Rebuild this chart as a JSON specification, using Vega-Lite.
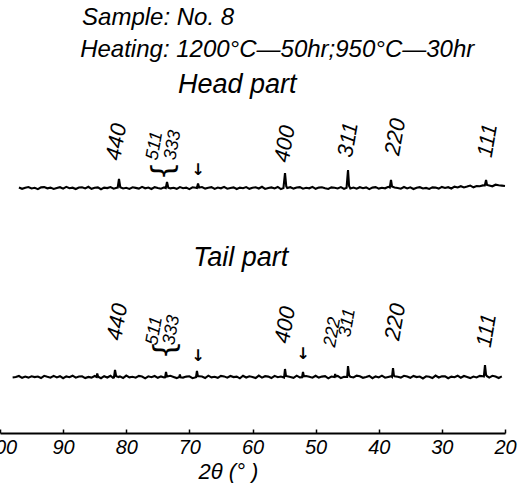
{
  "$schema": "https://vega.github.io/schema/vega-lite/v6.json",
  "width": 505,
  "height": 433,
  "autosize": "none",
  "padding": {"left": 0, "top": 0, "right": 22, "bottom": 50},
  "background": "white",
  "config": {"view": {"stroke": null}},
  "datasets": {
    "pattern": [
      {"s":"head","t":97.0,"v":245.5},{"s":"head","t":96.5,"v":244.2},{"s":"head","t":96.0,"v":245.3},{"s":"head","t":95.5,"v":246},{"s":"head","t":95.0,"v":244.5},
      {"s":"head","t":94.5,"v":245.2},{"s":"head","t":94.0,"v":243.9},{"s":"head","t":93.5,"v":245.6},{"s":"head","t":93.0,"v":245.9},{"s":"head","t":92.5,"v":244.7},
      {"s":"head","t":92.0,"v":245.4},{"s":"head","t":91.5,"v":244.1},{"s":"head","t":91.0,"v":245.1},{"s":"head","t":90.5,"v":245.8},{"s":"head","t":90.0,"v":244.4},
      {"s":"head","t":89.5,"v":246.1},{"s":"head","t":89.0,"v":244.8},{"s":"head","t":88.5,"v":245.3},{"s":"head","t":88.0,"v":244},{"s":"head","t":87.5,"v":245.5},
      {"s":"head","t":87.0,"v":245.7},{"s":"head","t":86.5,"v":244.6},{"s":"head","t":86.0,"v":246.2},{"s":"head","t":85.5,"v":244.2},{"s":"head","t":85.0,"v":245.2},
      {"s":"head","t":84.5,"v":245.6},{"s":"head","t":84.0,"v":243.8},{"s":"head","t":83.5,"v":245.4},{"s":"head","t":83.0,"v":244.9},{"s":"head","t":82.5,"v":245.9},
      {"s":"head","t":82.0,"v":244.3},{"s":"head","t":81.5,"v":245.3},{"s":"head","t":81.35,"v":245.5},{"s":"head","t":81.15,"v":254},{"s":"head","t":80.95,"v":245.8},
      {"s":"head","t":80.5,"v":244.5},{"s":"head","t":80.0,"v":245.2},{"s":"head","t":79.5,"v":244.1},{"s":"head","t":79.0,"v":245.7},{"s":"head","t":78.5,"v":245.1},
      {"s":"head","t":78.0,"v":244.4},{"s":"head","t":77.5,"v":246.1},{"s":"head","t":77.0,"v":244.7},{"s":"head","t":76.5,"v":245.5},{"s":"head","t":76.0,"v":244},
      {"s":"head","t":75.5,"v":245.8},{"s":"head","t":75.0,"v":245},{"s":"head","t":74.5,"v":244.3},{"s":"head","t":74.0,"v":245.6},{"s":"head","t":73.74,"v":245},
      {"s":"head","t":73.54,"v":251},{"s":"head","t":73.34,"v":245.3},{"s":"head","t":73.0,"v":244.6},{"s":"head","t":72.5,"v":245.2},{"s":"head","t":72.0,"v":244.2},
      {"s":"head","t":71.5,"v":245.9},{"s":"head","t":71.0,"v":244.8},{"s":"head","t":70.5,"v":245.4},{"s":"head","t":70.0,"v":243.9},{"s":"head","t":69.5,"v":245.7},
      {"s":"head","t":69.0,"v":245.3},{"s":"head","t":68.8,"v":245},{"s":"head","t":68.63,"v":249.5},{"s":"head","t":68.45,"v":245.4},{"s":"head","t":68.0,"v":246},
      {"s":"head","t":67.5,"v":244.4},{"s":"head","t":67.0,"v":245.2},{"s":"head","t":66.5,"v":245.8},{"s":"head","t":66.0,"v":244.1},{"s":"head","t":65.5,"v":245.5},
      {"s":"head","t":65.0,"v":244.7},{"s":"head","t":64.5,"v":246.1},{"s":"head","t":64.0,"v":244.3},{"s":"head","t":63.5,"v":245},{"s":"head","t":63.0,"v":245.6},
      {"s":"head","t":62.5,"v":244},{"s":"head","t":62.0,"v":245.4},{"s":"head","t":61.5,"v":244.8},{"s":"head","t":61.0,"v":245.9},{"s":"head","t":60.5,"v":244.2},
      {"s":"head","t":60.0,"v":245.3},{"s":"head","t":59.5,"v":245.7},{"s":"head","t":59.0,"v":244.5},{"s":"head","t":58.5,"v":246.2},{"s":"head","t":58.0,"v":244.1},
      {"s":"head","t":57.5,"v":245.1},{"s":"head","t":57.0,"v":245.6},{"s":"head","t":56.5,"v":244.6},{"s":"head","t":56.0,"v":246},{"s":"head","t":55.5,"v":243.9},
      {"s":"head","t":55.1,"v":245},{"s":"head","t":54.85,"v":260},{"s":"head","t":54.65,"v":246.5},{"s":"head","t":54.5,"v":244.9},{"s":"head","t":54.0,"v":245.8},
      {"s":"head","t":53.5,"v":244.4},{"s":"head","t":53.0,"v":245.5},{"s":"head","t":52.5,"v":245.9},{"s":"head","t":52.0,"v":244.3},{"s":"head","t":51.5,"v":245.2},
      {"s":"head","t":51.0,"v":244.7},{"s":"head","t":50.5,"v":246.1},{"s":"head","t":50.0,"v":244.2},{"s":"head","t":49.5,"v":245.4},{"s":"head","t":49.0,"v":245.7},
      {"s":"head","t":48.5,"v":244.8},{"s":"head","t":48.0,"v":244},{"s":"head","t":47.5,"v":245.6},{"s":"head","t":47.0,"v":245.3},{"s":"head","t":46.5,"v":244.5},
      {"s":"head","t":46.0,"v":245.9},{"s":"head","t":45.5,"v":244.1},{"s":"head","t":45.1,"v":245.2},{"s":"head","t":44.87,"v":263},{"s":"head","t":44.7,"v":247},
      {"s":"head","t":44.5,"v":244.6},{"s":"head","t":44.0,"v":245.5},{"s":"head","t":43.5,"v":244.3},{"s":"head","t":43.0,"v":245.8},{"s":"head","t":42.5,"v":244.8},
      {"s":"head","t":42.0,"v":245.6},{"s":"head","t":41.5,"v":243.9},{"s":"head","t":41.0,"v":245.4},{"s":"head","t":40.5,"v":245.9},{"s":"head","t":40.0,"v":244.4},
      {"s":"head","t":39.5,"v":245.2},{"s":"head","t":39.0,"v":244.7},{"s":"head","t":38.5,"v":246.2},{"s":"head","t":38.25,"v":245.5},{"s":"head","t":38.06,"v":253},
      {"s":"head","t":37.9,"v":246.5},{"s":"head","t":37.5,"v":245.5},{"s":"head","t":37.0,"v":245},{"s":"head","t":36.5,"v":244.3},{"s":"head","t":36.0,"v":246},
      {"s":"head","t":35.5,"v":244.6},{"s":"head","t":35.0,"v":245.7},{"s":"head","t":34.5,"v":244},{"s":"head","t":34.0,"v":245.3},{"s":"head","t":33.5,"v":245.8},
      {"s":"head","t":33.0,"v":244.5},{"s":"head","t":32.5,"v":245.1},{"s":"head","t":32.0,"v":244.1},{"s":"head","t":31.5,"v":245.6},{"s":"head","t":31.0,"v":245.4},
      {"s":"head","t":30.5,"v":244.4},{"s":"head","t":30.0,"v":246.1},{"s":"head","t":29.5,"v":245},{"s":"head","t":29.0,"v":245.8},{"s":"head","t":28.5,"v":244.5},
      {"s":"head","t":28.0,"v":246.3},{"s":"head","t":27.5,"v":245.5},{"s":"head","t":27.0,"v":246.8},{"s":"head","t":26.5,"v":245.5},{"s":"head","t":26.0,"v":246.4},
      {"s":"head","t":25.5,"v":247.4},{"s":"head","t":25.0,"v":245.7},{"s":"head","t":24.5,"v":247},{"s":"head","t":24.0,"v":246.7},{"s":"head","t":23.5,"v":247.6},
      {"s":"head","t":23.2,"v":247.5},{"s":"head","t":23.0,"v":253},{"s":"head","t":22.85,"v":248},{"s":"head","t":22.5,"v":247.5},{"s":"head","t":22.0,"v":246.7},
      {"s":"head","t":21.5,"v":248.3},{"s":"head","t":21.0,"v":247.7},{"s":"head","t":20.5,"v":247.4},{"s":"head","t":20.0,"v":247},

      {"s":"tail","t":98.0,"v":55.5},{"s":"tail","t":97.5,"v":56},{"s":"tail","t":97.0,"v":57},{"s":"tail","t":96.5,"v":55.2},{"s":"tail","t":96.0,"v":56.4},
      {"s":"tail","t":95.5,"v":55.4},{"s":"tail","t":95.0,"v":56.7},{"s":"tail","t":94.5,"v":55.9},{"s":"tail","t":94.0,"v":56.5},{"s":"tail","t":93.5,"v":55},
      {"s":"tail","t":93.0,"v":57.2},{"s":"tail","t":92.5,"v":56.2},{"s":"tail","t":92.0,"v":55.3},{"s":"tail","t":91.5,"v":57.1},{"s":"tail","t":91.0,"v":55.6},
      {"s":"tail","t":90.5,"v":56.8},{"s":"tail","t":90.0,"v":54.8},{"s":"tail","t":89.5,"v":56.6},{"s":"tail","t":89.0,"v":55.8},{"s":"tail","t":88.5,"v":57.3},
      {"s":"tail","t":88.0,"v":55.3},{"s":"tail","t":87.5,"v":56.5},{"s":"tail","t":87.0,"v":56.7},{"s":"tail","t":86.5,"v":54.9},{"s":"tail","t":86.0,"v":56.1},
      {"s":"tail","t":85.5,"v":55.4},{"s":"tail","t":85.0,"v":57},{"s":"tail","t":84.7,"v":56},{"s":"tail","t":84.6,"v":59.5},{"s":"tail","t":84.45,"v":56.3},
      {"s":"tail","t":84.0,"v":54.8},{"s":"tail","t":83.5,"v":56.8},{"s":"tail","t":83.0,"v":55.5},{"s":"tail","t":82.5,"v":57.2},{"s":"tail","t":82.1,"v":55.2},
      {"s":"tail","t":81.95,"v":55.5},{"s":"tail","t":81.78,"v":63},{"s":"tail","t":81.6,"v":56.8},{"s":"tail","t":81.2,"v":56},{"s":"tail","t":81.0,"v":56.6},
      {"s":"tail","t":80.5,"v":55},{"s":"tail","t":80.0,"v":57.4},{"s":"tail","t":79.5,"v":55.6},{"s":"tail","t":79.0,"v":56.2},{"s":"tail","t":78.5,"v":55.3},
      {"s":"tail","t":78.0,"v":57.1},{"s":"tail","t":77.5,"v":56.5},{"s":"tail","t":77.0,"v":54.7},{"s":"tail","t":76.5,"v":56.7},{"s":"tail","t":76.0,"v":55.8},
      {"s":"tail","t":75.5,"v":57},{"s":"tail","t":75.0,"v":55.2},{"s":"tail","t":74.5,"v":56.6},{"s":"tail","t":74.0,"v":55.5},{"s":"tail","t":73.85,"v":55.6},
      {"s":"tail","t":73.7,"v":61},{"s":"tail","t":73.55,"v":56.4},{"s":"tail","t":73.0,"v":57.2},{"s":"tail","t":72.5,"v":56.1},{"s":"tail","t":72.0,"v":54.9},
      {"s":"tail","t":71.6,"v":56},{"s":"tail","t":71.5,"v":58.5},{"s":"tail","t":71.4,"v":55.8},{"s":"tail","t":71.0,"v":55.4},{"s":"tail","t":70.5,"v":56.4},
      {"s":"tail","t":70.0,"v":56.7},{"s":"tail","t":69.5,"v":54.8},{"s":"tail","t":68.95,"v":55.8},{"s":"tail","t":68.8,"v":62},{"s":"tail","t":68.65,"v":56.8},
      {"s":"tail","t":68.5,"v":56.8},{"s":"tail","t":68.0,"v":56.5},{"s":"tail","t":67.5,"v":55},{"s":"tail","t":67.0,"v":57.3},{"s":"tail","t":66.5,"v":55.6},
      {"s":"tail","t":66.0,"v":56.2},{"s":"tail","t":65.5,"v":55.2},{"s":"tail","t":65.0,"v":57.1},{"s":"tail","t":64.5,"v":56.6},{"s":"tail","t":64.0,"v":55.3},
      {"s":"tail","t":63.5,"v":57},{"s":"tail","t":63.0,"v":55.9},{"s":"tail","t":62.5,"v":56.4},{"s":"tail","t":62.0,"v":54.7},{"s":"tail","t":61.5,"v":57.2},
      {"s":"tail","t":61.0,"v":55.5},{"s":"tail","t":60.5,"v":56.7},{"s":"tail","t":60.0,"v":56.1},{"s":"tail","t":59.5,"v":54.9},{"s":"tail","t":59.0,"v":57.4},
      {"s":"tail","t":58.5,"v":55.4},{"s":"tail","t":58.0,"v":56.8},{"s":"tail","t":57.5,"v":56.4},{"s":"tail","t":57.0,"v":55},{"s":"tail","t":56.5,"v":57.1},
      {"s":"tail","t":56.0,"v":55.8},{"s":"tail","t":55.5,"v":56.5},{"s":"tail","t":55.0,"v":55.5},{"s":"tail","t":54.85,"v":64},{"s":"tail","t":54.7,"v":57},
      {"s":"tail","t":54.5,"v":56.7},{"s":"tail","t":54.0,"v":56},{"s":"tail","t":53.5,"v":55.2},{"s":"tail","t":53.0,"v":57.3},{"s":"tail","t":52.5,"v":55.6},
      {"s":"tail","t":52.15,"v":55.8},{"s":"tail","t":52.0,"v":61},{"s":"tail","t":51.85,"v":56.6},{"s":"tail","t":51.5,"v":57},{"s":"tail","t":51.0,"v":56.2},
      {"s":"tail","t":50.5,"v":55.3},{"s":"tail","t":50.0,"v":57.2},{"s":"tail","t":49.5,"v":55.4},{"s":"tail","t":49.0,"v":56.4},{"s":"tail","t":48.5,"v":56.8},
      {"s":"tail","t":48.0,"v":54.7},{"s":"tail","t":47.5,"v":56.5},{"s":"tail","t":47.0,"v":56},{"s":"tail","t":46.9,"v":59},{"s":"tail","t":46.8,"v":56.5},
      {"s":"tail","t":46.5,"v":57.1},{"s":"tail","t":46.0,"v":55},{"s":"tail","t":45.5,"v":56.2},{"s":"tail","t":45.0,"v":56},{"s":"tail","t":44.87,"v":67},
      {"s":"tail","t":44.7,"v":58},{"s":"tail","t":44.5,"v":56.2},{"s":"tail","t":44.0,"v":55.5},{"s":"tail","t":43.5,"v":57.4},{"s":"tail","t":43.0,"v":56.7},
      {"s":"tail","t":42.5,"v":55.2},{"s":"tail","t":42.0,"v":56},{"s":"tail","t":41.5,"v":57},{"s":"tail","t":41.0,"v":54.8},{"s":"tail","t":40.5,"v":56.6},
      {"s":"tail","t":40.0,"v":55.6},{"s":"tail","t":39.5,"v":57.3},{"s":"tail","t":39.0,"v":55.3},{"s":"tail","t":38.5,"v":56.1},{"s":"tail","t":38.0,"v":56.8},
      {"s":"tail","t":37.9,"v":56.2},{"s":"tail","t":37.74,"v":65},{"s":"tail","t":37.6,"v":57.5},{"s":"tail","t":37.5,"v":56.8},{"s":"tail","t":37.0,"v":56.2},
      {"s":"tail","t":36.5,"v":55.4},{"s":"tail","t":36.0,"v":57.2},{"s":"tail","t":35.5,"v":56.4},{"s":"tail","t":35.0,"v":55.2},{"s":"tail","t":34.5,"v":57.1},
      {"s":"tail","t":34.0,"v":55.9},{"s":"tail","t":33.5,"v":56.5},{"s":"tail","t":33.0,"v":54.6},{"s":"tail","t":32.5,"v":56.7},{"s":"tail","t":32.0,"v":56.2},
      {"s":"tail","t":31.5,"v":55},{"s":"tail","t":31.0,"v":57.4},{"s":"tail","t":30.5,"v":55.5},{"s":"tail","t":30.0,"v":56.8},{"s":"tail","t":29.5,"v":56.6},
      {"s":"tail","t":29.0,"v":54.8},{"s":"tail","t":28.5,"v":56.4},{"s":"tail","t":28.0,"v":55.8},{"s":"tail","t":27.5,"v":57.3},{"s":"tail","t":27.0,"v":55.3},
      {"s":"tail","t":26.5,"v":57},{"s":"tail","t":26.0,"v":56.1},{"s":"tail","t":25.5,"v":54.9},{"s":"tail","t":25.0,"v":56.5},{"s":"tail","t":24.5,"v":55.6},
      {"s":"tail","t":24.0,"v":57.1},{"s":"tail","t":23.5,"v":56.7},{"s":"tail","t":23.35,"v":56.5},{"s":"tail","t":23.17,"v":68},{"s":"tail","t":23.0,"v":58},
      {"s":"tail","t":22.85,"v":56.8},{"s":"tail","t":22.5,"v":55.4},{"s":"tail","t":22.0,"v":57.2},{"s":"tail","t":21.5,"v":56.4},{"s":"tail","t":21.0,"v":55},
      {"s":"tail","t":20.5,"v":56.6}
    ],
    "titles": [
      {"t": 87.0, "v": 408, "label": "Sample: No. 8"},
      {"t": 87.3, "v": 376, "label": "Heating: 1200°C—50hr;950°C—30hr"}
    ],
    "parts": [
      {"t": 71.8, "v": 340, "label": "Head part"},
      {"t": 69.4, "v": 167, "label": "Tail part"}
    ],
    "hkl": [
      {"t": 82.1, "v": 273, "label": "440"},
      {"t": 55.4, "v": 271, "label": "400"},
      {"t": 45.35, "v": 276, "label": "311"},
      {"t": 37.9, "v": 278, "label": "220"},
      {"t": 23.25, "v": 276, "label": "111"},
      {"t": 81.94, "v": 93, "label": "440"},
      {"t": 55.33, "v": 90, "label": "400"},
      {"t": 37.9, "v": 93, "label": "220"},
      {"t": 23.4, "v": 86, "label": "111"}
    ],
    "hkl_small": [
      {"t": 75.85, "v": 273, "label": "511"},
      {"t": 73.0, "v": 273, "label": "333"},
      {"t": 75.92, "v": 88, "label": "511"},
      {"t": 73.23, "v": 88, "label": "333"},
      {"t": 47.72, "v": 86, "label": "222"},
      {"t": 45.35, "v": 96, "label": "311"}
    ],
    "braces": [
      {"t": 74.0, "v": 262, "label": "{"},
      {"t": 73.7, "v": 83, "label": "{"}
    ],
    "arrows": [
      {"t": 68.63, "v": 263, "label": "↓"},
      {"t": 68.63, "v": 77, "label": "↓"},
      {"t": 52.0, "v": 79, "label": "↓"}
    ]
  },
  "encoding": {
    "x": {
      "field": "t", "type": "quantitative",
      "scale": {"domain": [20, 100], "reverse": true, "nice": false, "zero": false},
      "axis": {
        "values": [100, 90, 80, 70, 60, 50, 40, 30, 20],
        "title": "2θ (° )",
        "titleFont": "Liberation Sans", "titleFontStyle": "italic", "titleFontWeight": "normal",
        "titleFontSize": 22, "titleColor": "black",
        "titleX": 228, "titleY": 45, "titleAlign": "center", "titleBaseline": "alphabetic",
        "labelFont": "Liberation Sans", "labelFontStyle": "italic", "labelFontSize": 20,
        "labelColor": "black", "labelPadding": 8, "labelBaseline": "top", "labelFlush": false, "labelOverlap": false,
        "domainColor": "black", "domainWidth": 2.2,
        "tickColor": "black", "tickWidth": 1.5, "tickSize": -4,
        "grid": false
      }
    },
    "y": {
      "field": "v", "type": "quantitative",
      "scale": {"domain": [0, 433], "nice": false, "zero": false},
      "axis": null
    }
  },
  "layer": [
    {
      "data": {"name": "pattern"},
      "mark": {"type": "line", "color": "black", "strokeWidth": 2.1, "strokeJoin": "miter"},
      "encoding": {"detail": {"field": "s"}}
    },
    {
      "data": {"name": "titles"},
      "mark": {"type": "text", "font": "Liberation Sans", "fontStyle": "italic", "fontSize": 24, "align": "left", "baseline": "alphabetic", "color": "black"},
      "encoding": {"text": {"field": "label"}}
    },
    {
      "data": {"name": "parts"},
      "mark": {"type": "text", "font": "Liberation Sans", "fontStyle": "italic", "fontSize": 27, "align": "left", "baseline": "alphabetic", "color": "black"},
      "encoding": {"text": {"field": "label"}}
    },
    {
      "data": {"name": "hkl"},
      "mark": {"type": "text", "font": "Liberation Sans", "fontStyle": "italic", "fontSize": 22, "align": "left", "baseline": "middle", "angle": 280, "color": "black"},
      "encoding": {"text": {"field": "label"}}
    },
    {
      "data": {"name": "hkl_small"},
      "mark": {"type": "text", "font": "Liberation Sans", "fontStyle": "italic", "fontSize": 18, "align": "left", "baseline": "middle", "angle": 280, "color": "black"},
      "encoding": {"text": {"field": "label"}}
    },
    {
      "data": {"name": "braces"},
      "mark": {"type": "text", "font": "DejaVu Sans", "fontSize": 30, "align": "center", "baseline": "middle", "angle": 270, "color": "black"},
      "encoding": {"text": {"field": "label"}}
    },
    {
      "data": {"name": "arrows"},
      "mark": {"type": "text", "font": "DejaVu Sans", "fontSize": 16, "fontWeight": "bold", "align": "center", "baseline": "middle", "color": "black"},
      "encoding": {"text": {"field": "label"}}
    }
  ]
}
